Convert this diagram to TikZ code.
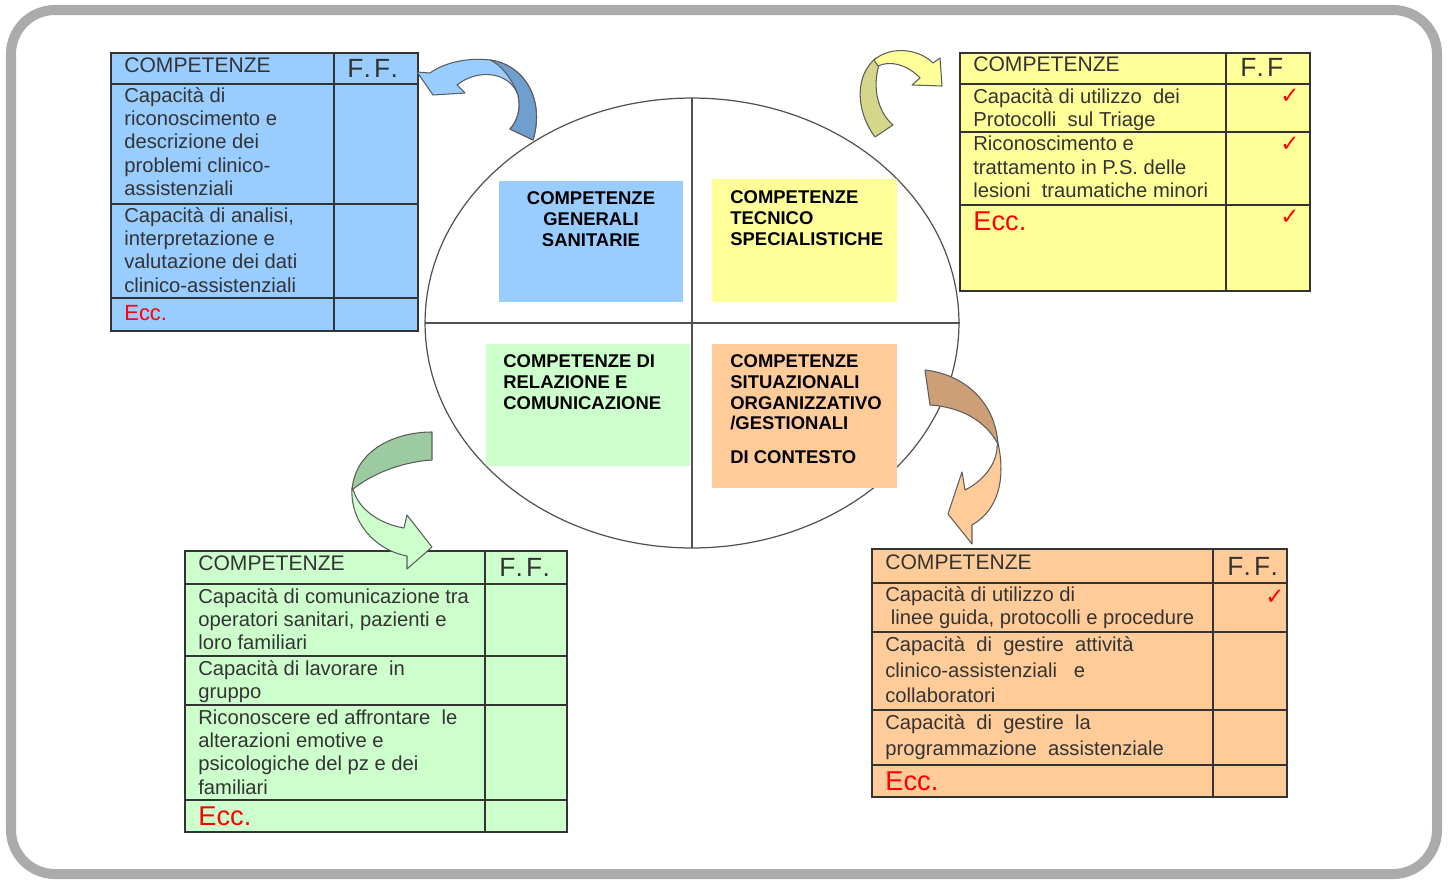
\documentclass[tikz,border=0pt]{standalone}
\usepackage{fontspec}
\setmainfont{Liberation Sans}
\newfontfamily\checkfont{DejaVu Sans}
\definecolor{skyfill}{HTML}{99CCFF}
\definecolor{skydark}{HTML}{6F9FCF}
\definecolor{lemonfill}{HTML}{FFFF99}
\definecolor{lemondark}{HTML}{D6D68A}
\definecolor{mintfill}{HTML}{CCFFCC}
\definecolor{mintdark}{HTML}{9CCB9F}
\definecolor{peachfill}{HTML}{FFCC99}
\definecolor{peachdark}{HTML}{CC9F76}
\definecolor{inkgray}{HTML}{333333}
\definecolor{framegray}{HTML}{ABABAB}

\begin{document}
\begin{tikzpicture}[x=0.02cm, y=-0.02cm,
      every node/.style = {inner sep=0pt, text=inkgray},
      celltxt/.style = {anchor=north west, align=left, font=\fontsize{11.5}{13.3}\selectfont},
      widetxt/.style = {anchor=north west, align=left, font=\fontsize{11.5}{14.7}\selectfont},
      headtxt/.style = {anchor=west, font=\fontsize{12}{14}\selectfont},
      fftxt/.style = {anchor=west, font=\fontsize{15}{17}\selectfont\addfontfeature{LetterSpace=12}},
      ecctxt/.style = {anchor=west, text=red, font=\fontsize{15.5}{17}\selectfont},
      quadtxt/.style = {anchor=north west, align=left, text=black, font=\fontsize{10.5}{11.9}\selectfont\bfseries},
      checkmk/.style = {text=red, font=\checkfont\fontsize{13}{13}\selectfont},
      tablines/.style = {draw=inkgray, line width=0.85pt},
      arrowband/.style = {draw=inkgray!80, line width=0.6pt, line join=round}]
    \useasboundingbox (0,0) rectangle (1450,879);
    \draw[framegray, line width=5.7pt, rounded corners=25pt] (11,10) rectangle (1437,874);

    % circle
    \draw[inkgray!85, line width=0.7pt] (692,323) ellipse [x radius=5.34cm, y radius=4.5cm];
    \draw[inkgray!85, line width=0.7pt] (692,98) -- (692,548) (425,323) -- (960,323);

    \fill[skyfill] (499,181) rectangle (683,302);
    \node[quadtxt, anchor=north, align=center] (gensan) at (591,191) {COMPETENZE\\GENERALI\\SANITARIE};
    \fill[lemonfill] (712,179) rectangle (897,302);
    \node[quadtxt] (tecspec) at (730,190) {COMPETENZE\\TECNICO\\SPECIALISTICHE};
    \fill[mintfill] (486,344) rectangle (690,466);
    \node[quadtxt] (relcom) at (503,354) {COMPETENZE DI\\RELAZIONE E\\COMUNICAZIONE};
    \fill[peachfill] (712,344) rectangle (897,488);
    \node[quadtxt] (sitorg) at (730,354) {COMPETENZE\\SITUAZIONALI\\ORGANIZZATIVO\\/GESTIONALI\\[7pt]DI CONTESTO};

    % blue table
    \filldraw[tablines, fill=skyfill] (111,53) rectangle (418,331);
    \draw[tablines] (334,53) -- (334,331) (111,84) -- (418,84) (111,204) -- (418,204) (111,298) -- (418,298);
    \node[headtxt] (bluehd) at (124,65) {COMPETENZE};
    \node[fftxt] (blueff) at (347,68) {F.F.};
    \node[celltxt] (blueA) at (124,87) {Capacità di\\riconoscimento e\\descrizione dei\\problemi clinico-\\assistenziali};
    \node[celltxt] (blueB) at (124,207) {Capacità di analisi,\\interpretazione e\\valutazione dei dati\\clinico-assistenziali};
    \node[ecctxt, font=\fontsize{12.5}{14}\selectfont] (blueecc) at (124,313) {Ecc.};

    % yellow table
    \filldraw[tablines, fill=lemonfill] (960,53) rectangle (1310,291);
    \draw[tablines] (1226,53) -- (1226,291) (960,84) -- (1310,84) (960,132) -- (1310,132) (960,205) -- (1310,205);
    \node[headtxt] (yelhd) at (973,64) {COMPETENZE};
    \node[fftxt] (yelff) at (1240,67) {F.F};
    \node[celltxt] (yelA) at (973,88) {Capacità di utilizzo\ \ dei\\Protocolli\ \ sul Triage};
    \node[celltxt] (yelB) at (973,136) {Riconoscimento e\\trattamento in P.S. delle\\lesioni\ \ traumatiche minori};
    \node[ecctxt] (yelecc) at (973,221) {Ecc.};
    \node[checkmk] (yelchkA) at (1290,96) {✓};
    \node[checkmk] (yelchkB) at (1290,144) {✓};
    \node[checkmk] (yelchkC) at (1290,217) {✓};

    % green table
    \filldraw[tablines, fill=mintfill] (185,551) rectangle (567,832);
    \draw[tablines] (485,551) -- (485,832) (185,584) -- (567,584) (185,656) -- (567,656) (185,705) -- (567,705) (185,800) -- (567,800);
    \node[headtxt] (grnhd) at (198,563) {COMPETENZE};
    \node[fftxt] (grnff) at (499,567) {F.F.};
    \node[celltxt] (grnA) at (198,588) {Capacità di comunicazione tra\\operatori sanitari, pazienti e\\loro familiari};
    \node[celltxt] (grnB) at (198,660) {Capacità di lavorare\ \ in\\gruppo};
    \node[celltxt] (grnC) at (198,709) {Riconoscere ed affrontare\ \ le\\alterazioni emotive e\\psicologiche del pz e dei\\familiari};
    \node[ecctxt] (grnecc) at (198,816) {Ecc.};

    % orange table
    \filldraw[tablines, fill=peachfill] (872,549) rectangle (1287,797);
    \draw[tablines] (1213,549) -- (1213,797) (872,583) -- (1287,583) (872,632) -- (1287,632) (872,710) -- (1287,710) (872,765) -- (1287,765);
    \node[headtxt] (orghd) at (885,562) {COMPETENZE};
    \node[fftxt] (orgff) at (1227,566) {F.F.};
    \node[celltxt] (orgA) at (885,586) {Capacità di utilizzo di\\\ linee guida, protocolli e procedure};
    \node[widetxt] (orgB) at (885,636) {Capacità\ \ di\ \ gestire\ \ attività\\clinico-assistenziali\ \ \ e\\collaboratori};
    \node[widetxt] (orgC) at (885,714) {Capacità\ \ di\ \ gestire\ \ la\\programmazione\ \ assistenziale};
    \node[ecctxt] (orgecc) at (885,781) {Ecc.};
    \node[checkmk] (orgchk) at (1275,597) {✓};

    % arrows
    \filldraw[arrowband, fill=skyfill] (533,140) .. controls (545,100) and (525,65) .. (490,60)
      .. controls (465,57) and (442,64) .. (430,73) -- (417,72) -- (433,95) -- (465,93) -- (457,85)
      .. controls (478,68) and (510,72) .. (518,95) .. controls (521,108) and (518,120) .. (510,129) -- cycle;
    \filldraw[arrowband, fill=skydark] (533,140) .. controls (545,100) and (525,65) .. (490,60)
      .. controls (500,64) and (512,78) .. (518,95) .. controls (521,108) and (518,120) .. (510,129) -- cycle;

    \filldraw[arrowband, fill=lemondark] (875,137) .. controls (855,110) and (855,75) .. (876,58)
      -- (879,65) .. controls (872,88) and (878,112) .. (893,125) -- cycle;
    \filldraw[arrowband, fill=lemonfill] (874,60) .. controls (890,46) and (918,48) .. (933,63)
      -- (940,58) -- (942,86) -- (912,85) -- (920,78) .. controls (908,65) and (890,60) .. (878,66) -- cycle;

    \filldraw[arrowband, fill=mintdark] (432,432) .. controls (395,432) and (355,450) .. (352,490)
      .. controls (370,475) and (400,462) .. (432,460) -- cycle;
    \filldraw[arrowband, fill=mintfill] (352,488) .. controls (350,522) and (375,550) .. (407,556)
      -- (407,569) -- (432,547) -- (407,515) -- (404,528) .. controls (380,524) and (360,510) .. (354,492) -- cycle;

    \filldraw[arrowband, fill=peachdark] (925,370) .. controls (962,374) and (995,400) .. (998,444)
      .. controls (985,420) and (960,407) .. (930,405) -- cycle;
    \filldraw[arrowband, fill=peachfill] (998,443) .. controls (1006,480) and (998,510) .. (972,525)
      -- (972,544) -- (948,514) -- (962,472) -- (965,490) .. controls (985,480) and (997,462) .. (997,447) -- cycle;
\end{tikzpicture}
\end{document}
